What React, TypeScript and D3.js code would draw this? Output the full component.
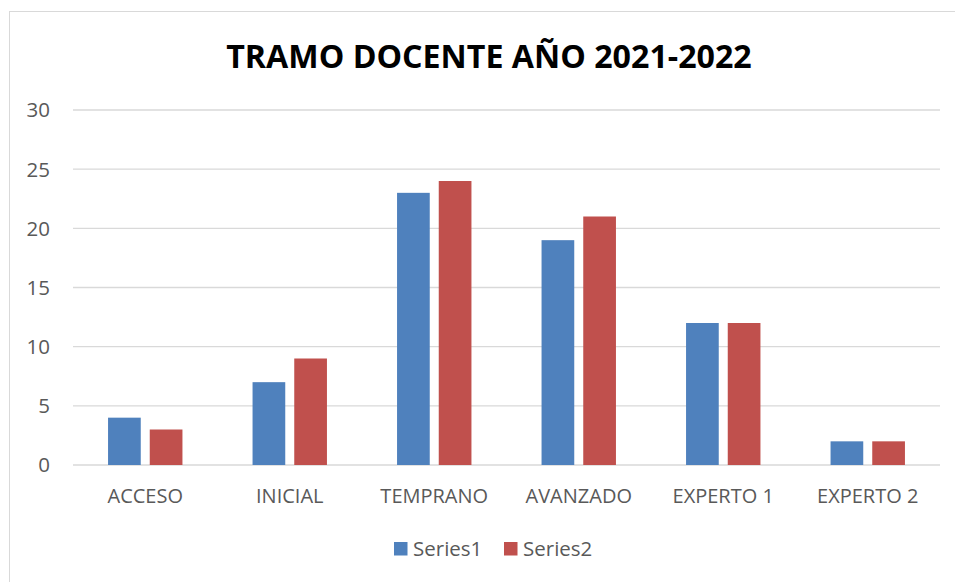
import React from "react";
import * as d3 from "d3";

const categories = ["ACCESO", "INICIAL", "TEMPRANO", "AVANZADO", "EXPERTO 1", "EXPERTO 2"];
const series1 = [4, 7, 23, 19, 12, 2];
const series2 = [3, 9, 24, 21, 12, 2];
const seriesNames = ["Series1", "Series2"];
const yTicks = [0, 5, 10, 15, 20, 25, 30];
const title = "TRAMO DOCENTE AÑO 2021-2022";

const colors = ["#4F81BD", "#C0504D"];
const FONT = "'Open Sans', 'Liberation Sans', sans-serif";

export default function App() {
  const W = 955, H = 582;
  const left = 73, right = 940, top = 110, bottom = 465;
  const x = d3.scaleBand<string>().domain(categories).range([left, right]);
  const y = d3.scaleLinear().domain([0, 30]).range([bottom, top]);
  const barW = 32.7;
  const gap = 9;
  const data = [series1, series2];

  return (
    <svg width={W} height={H} style={{ position: "absolute", left: 0, top: 0 }}>
      <rect x={0} y={0} width={W} height={H} fill="#fff" />
      <rect x={9.5} y={11.5} width={W + 20} height={H + 20} fill="none" stroke="#D9D9D9" strokeWidth={1} />
      <text x={489} y={68} textAnchor="middle" fontFamily={FONT} fontWeight={700} fontSize={32.2} fill="#000">
        {title}
      </text>
      {yTicks.map((t) => (
        <g key={t}>
          <line x1={left} x2={right} y1={y(t)} y2={y(t)} stroke="#D9D9D9" strokeWidth={1.3} />
          <text x={50} y={y(t)} dy="0.36em" textAnchor="end" fontFamily={FONT} fontSize={20.5} fill="#595959">
            {t}
          </text>
        </g>
      ))}
      {categories.map((c, i) => {
        const cx = (x(c) as number) + x.bandwidth() / 2;
        const groupW = barW * 2 + gap;
        return (
          <g key={c}>
            {data.map((s, k) => (
              <rect
                key={k}
                x={cx - groupW / 2 + k * (barW + gap)}
                y={y(s[i])}
                width={barW}
                height={y(0) - y(s[i])}
                fill={colors[k]}
              />
            ))}
            <text x={cx} y={503} textAnchor="middle" fontFamily={FONT} fontSize={20} fill="#595959">
              {c}
            </text>
          </g>
        );
      })}
      {seriesNames.map((n, k) => {
        const lx = 394 + k * 110;
        return (
          <g key={n}>
            <rect x={lx} y={542} width={13.5} height={13.5} fill={colors[k]} />
            <text x={lx + 19} y={556} fontFamily={FONT} fontSize={20.5} fill="#595959">
              {n}
            </text>
          </g>
        );
      })}
    </svg>
  );
}
